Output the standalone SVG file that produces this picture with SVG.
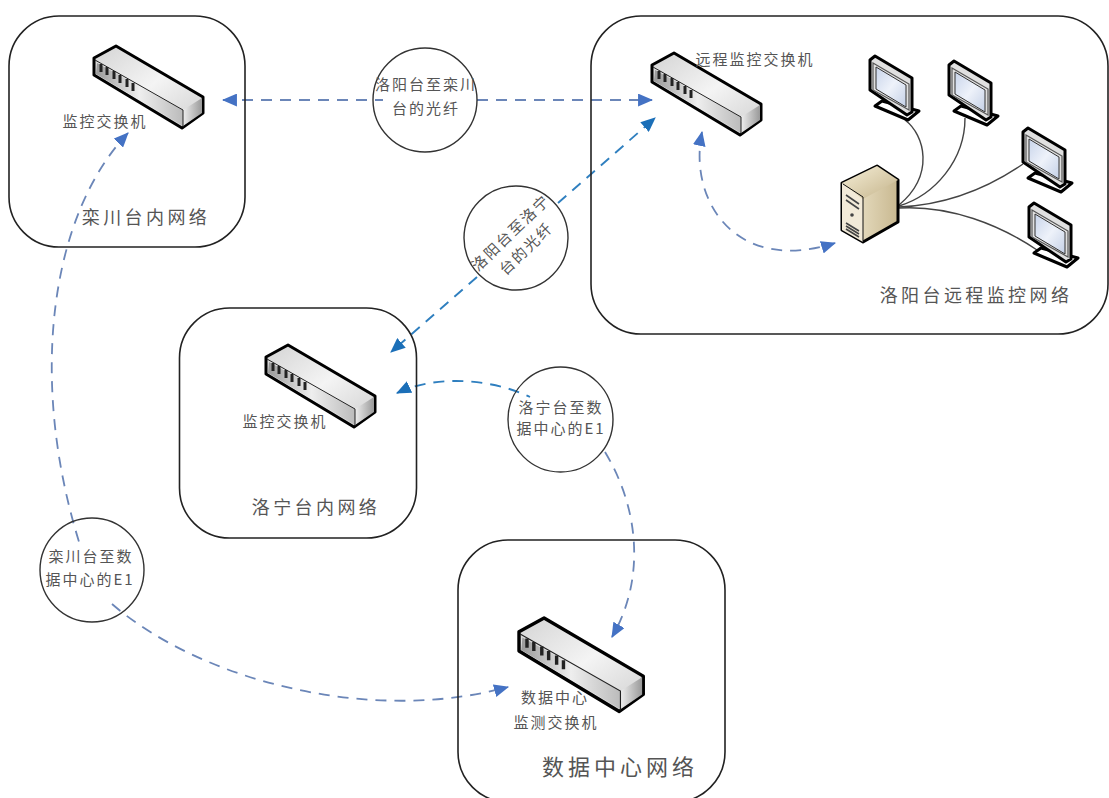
<svg xmlns="http://www.w3.org/2000/svg" width="1109" height="798" viewBox="0 0 1109 798">
<style>
.zone{fill:none;stroke:#222;stroke-width:1.6}
.bub{fill:none;stroke:#333;stroke-width:1.4}
.t{font-family:"Noto Sans CJK SC","Liberation Sans",sans-serif;fill:#555;text-anchor:middle}
.s{font-size:15px;letter-spacing:2px}
.n{font-size:18px;letter-spacing:3.4px}
.c{font-size:15px;letter-spacing:2px}
.cab{fill:none;stroke:#444;stroke-width:1.4}
.d1{fill:none;stroke:#6b86b8;stroke-width:1.8;stroke-dasharray:11 8}
.d2{fill:none;stroke:#2f7fbf;stroke-width:1.9;stroke-dasharray:11 8}
.k{stroke:#000;stroke-width:3;stroke-linejoin:round}
</style>
<defs>
<linearGradient id="sw1" x1="0" y1="0" x2="1" y2="1"><stop offset="0" stop-color="#d4d4d4"/><stop offset=".5" stop-color="#f4f4f4"/><stop offset="1" stop-color="#cfcfcf"/></linearGradient>
<linearGradient id="sw2" x1="0" y1="0" x2="1" y2="0"><stop offset="0" stop-color="#999"/><stop offset=".5" stop-color="#eee"/><stop offset="1" stop-color="#bbb"/></linearGradient>
<linearGradient id="sw3" x1="0" y1="0" x2="1" y2="0"><stop offset="0" stop-color="#eee"/><stop offset="1" stop-color="#999"/></linearGradient>
<linearGradient id="scr" x1="0" y1="0" x2="1" y2="1"><stop offset="0" stop-color="#c8d4ea"/><stop offset=".5" stop-color="#eef2fa"/><stop offset="1" stop-color="#c4d0e6"/></linearGradient>
<linearGradient id="srv" x1="0" y1="0" x2="1" y2="1"><stop offset="0" stop-color="#f6efd8"/><stop offset="1" stop-color="#c4b38a"/></linearGradient>
<linearGradient id="srv2" x1="0" y1="0" x2="1" y2="0"><stop offset="0" stop-color="#f2ead2"/><stop offset="1" stop-color="#c8b890"/></linearGradient>
<g id="sw">
<path d="M0,12 L22,0 L109,51 L109,67 L88,82 L0,29Z" fill="url(#sw1)" class="k"/>
<path d="M3,17 L89,64 L89,80 L2,28Z" fill="url(#sw2)"/>
<path d="M89,64 L108,52 L108,67 L89,80Z" fill="url(#sw3)"/>
<path d="M1,14 L89,64 L89,81" fill="none" stroke="#222" stroke-width="1"/>
<path d="M7,18v8M13,21v8M20,25v8M26,29v8M33,33v8M39,37v8" stroke="#222" stroke-width="3" fill="none"/>
</g>
<g id="mon">
<path d="M5,50 L12,45 L49,55 L38,64Z" fill="#fff" class="k"/>
<path d="M0,4 L5,0 L42,22 L42,56 L37,59 L0,34Z" fill="#e0e0e0" class="k"/>
<path d="M3,7 L39,28 L39,54 L3,34Z" fill="none" stroke="#555" stroke-width="1.2"/>
<path d="M6,11 L36,29 L36,51 L6,33Z" fill="url(#scr)" stroke="#333" stroke-width="1"/>
</g>
<marker id="a1" viewBox="0 0 14 12" refX="13" refY="6" markerWidth="15" markerHeight="13" markerUnits="userSpaceOnUse" orient="auto-start-reverse"><path d="M0,0L14,6L0,12Z" fill="#4472c4"/></marker>
<marker id="a2" viewBox="0 0 14 12" refX="13" refY="6" markerWidth="15" markerHeight="13" markerUnits="userSpaceOnUse" orient="auto-start-reverse"><path d="M0,0L14,6L0,12Z" fill="#1b6fb8"/></marker>
</defs>
<g id="connectors">
<path class="d1" d="M223,100H383" marker-start="url(#a1)"/>
<path class="d1" d="M477,100H652" marker-end="url(#a1)"/>
<path class="d2" d="M558,203L655,118" marker-end="url(#a2)"/>
<path class="d2" d="M477,277L391,352" marker-end="url(#a2)"/>
<path class="d1" d="M702,132C688,200 735,275 835,243" marker-start="url(#a1)" marker-end="url(#a1)"/>
<path class="d2" d="M397,393C435,375 490,378 530,397" marker-start="url(#a2)"/>
<path class="d1" d="M605,452C640,510 645,580 612,637" marker-end="url(#a1)"/>
<path class="d1" d="M128,133C50,215 28,380 80,545" marker-start="url(#a1)"/>
<path class="d1" d="M112,604C200,680 370,725 508,687" marker-end="url(#a1)"/>
<g id="cables">
<path class="cab" d="M905,120C925,135 935,175 899,205"/>
<path class="cab" d="M965,118C965,160 935,195 899,206"/>
<path class="cab" d="M1023,164C985,190 945,205 899,207"/>
<path class="cab" d="M1037,250C1000,225 950,205 899,208"/>
</g>
</g>
<g id="luanchuan"><rect class="zone" x="9" y="16" width="236" height="231" rx="50"/><use href="#sw" x="94" y="46"/><text class="t s" x="105" y="127">监控交换机</text><text class="t n" x="146" y="224">栾川台内网络</text></g>
<g id="luoyang"><rect class="zone" x="591" y="16" width="517" height="318" rx="50"/><use href="#sw" x="652" y="53"/><text class="t s" x="755" y="65">远程监控交换机</text>
<use href="#mon" x="870" y="56"/><use href="#mon" x="949" y="61"/><use href="#mon" x="1023" y="128"/><use href="#mon" x="1029" y="203"/>
<g id="server"><path d="M842,183L877,166L898,180V222L863,242L842,230Z" fill="url(#srv2)" class="k"/><path d="M842,183L863,199V242L842,230Z" fill="#f2ead8"/><path d="M842,183L877,166L898,180L863,199Z" fill="url(#srv)"/><path d="M843,184L863,197V242" fill="none" stroke="#111" stroke-width="1"/><path d="M846,195L859,204M846,200L859,209M846,223L859,231M846,226L859,234M846,229L859,237" stroke="#444" stroke-width="1.6"/><circle cx="852" cy="215" r="1.8" fill="#444"/></g>
<text class="t n" x="976" y="302">洛阳台远程监控网络</text></g>
<g id="luoning"><rect class="zone" x="179.500" y="308" width="237" height="230" rx="50"/><use href="#sw" x="266" y="345"/><text class="t s" x="285" y="427">监控交换机</text><text class="t n" x="316" y="514">洛宁台内网络</text></g>
<g id="datacenter"><rect class="zone" x="458" y="540" width="267" height="262" rx="50"/><use href="#sw" transform="translate(519,618) scale(1.14)"/><text class="t s" x="555" y="703">数据中心</text><text class="t s" x="556" y="728">监测交换机</text><text class="t" style="font-size:22px;letter-spacing:4px" x="620" y="775">数据中心网络</text></g>
<g id="bubble1"><circle class="bub" cx="425" cy="100" r="52"/><text class="t c" x="426" y="90">洛阳台至栾川</text><text class="t c" x="426" y="114">台的光纤</text></g>
<g id="bubble2"><circle class="bub" cx="516" cy="238" r="52"/><g transform="rotate(-44 516 238)"><text class="t c" x="516" y="236">洛阳台至洛宁</text><text class="t c" x="516" y="258">台的光纤</text></g></g>
<g id="bubble3"><circle class="bub" cx="560.500" cy="419.500" r="52.500"/><text class="t c" x="561" y="413">洛宁台至数</text><text class="t c" x="561" y="434">据中心的E1</text></g>
<g id="bubble4"><circle class="bub" cx="92" cy="570" r="52"/><text class="t c" x="91" y="562">栾川台至数</text><text class="t c" x="90" y="585">据中心的E1</text></g>
</svg>
